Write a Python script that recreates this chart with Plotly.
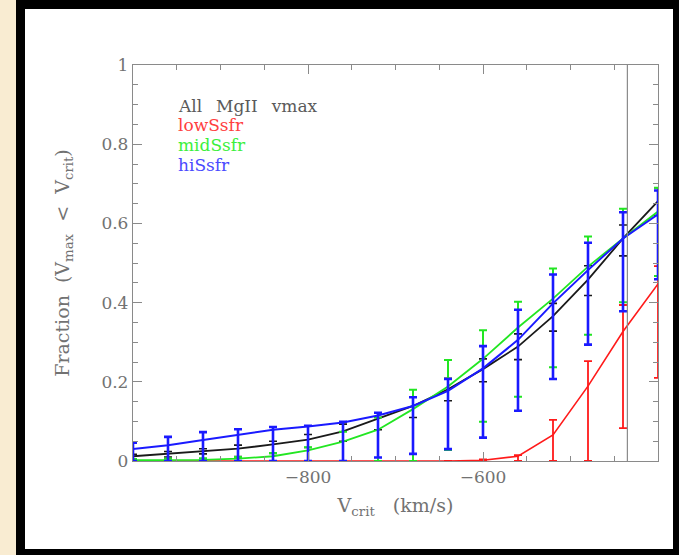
import plotly.graph_objects as go

# ---- data ----
vcrit = [-1000, -960, -920, -880, -840, -800, -760, -720, -680, -640, -600, -560, -520, -480, -440, -400]

all_y  = [0.012, 0.018, 0.024, 0.031, 0.042, 0.054, 0.075, 0.108, 0.139, 0.181, 0.232, 0.289, 0.366, 0.458, 0.562, 0.656]
all_hi = [0.017, 0.024, 0.031, 0.040, 0.050, 0.067, 0.093, 0.122, 0.161, 0.209, 0.258, 0.321, 0.398, 0.493, 0.596, 0.690]
all_lo = [0.005, 0.010, 0.018, 0.011, 0.019, 0.034, 0.050, 0.079, 0.110, 0.152, 0.200, 0.256, 0.328, 0.418, 0.518, 0.620]

low_y  = [0, 0, 0, 0, 0, 0, 0, 0, 0, 0, 0.002, 0.012, 0.066, 0.189, 0.327, 0.447]
low_hi = [0, 0, 0, 0, 0, 0, 0, 0, 0, 0, 0.004, 0.015, 0.104, 0.252, 0.394, 0.492]
low_lo = [0, 0, 0, 0, 0, 0, 0, 0, 0, 0, 0.000, 0.000, 0.000, 0.000, 0.083, 0.210]

mid_y  = [0.002, 0.002, 0.003, 0.006, 0.012, 0.027, 0.049, 0.079, 0.131, 0.188, 0.258, 0.337, 0.410, 0.491, 0.562, 0.630]
mid_hi = [0.005, 0.006, 0.007, 0.010, 0.020, 0.035, 0.074, 0.110, 0.180, 0.255, 0.330, 0.402, 0.486, 0.567, 0.637, 0.690]
mid_lo = [0.000, 0.000, 0.000, 0.000, 0.000, 0.000, 0.000, 0.000, 0.000, 0.028, 0.099, 0.162, 0.237, 0.319, 0.401, 0.467]

hi_y   = [0.030, 0.040, 0.053, 0.066, 0.079, 0.087, 0.097, 0.115, 0.139, 0.177, 0.234, 0.306, 0.398, 0.482, 0.562, 0.623]
hi_hi  = [0.046, 0.061, 0.073, 0.080, 0.086, 0.089, 0.099, 0.122, 0.161, 0.207, 0.290, 0.382, 0.471, 0.551, 0.628, 0.683]
hi_lo  = [0.000, 0.000, 0.000, 0.000, 0.000, 0.000, 0.000, 0.009, 0.018, 0.030, 0.059, 0.127, 0.207, 0.294, 0.378, 0.459]

legend_labels = ["All MgII vmax", "lowSsfr", "midSsfr", "hiSsfr"]
vline_x = -435

x_tickvals = [-800, -600]
x_ticktext = ["\u2212800", "\u2212600"]
y_tickvals = [0, 0.2, 0.4, 0.6, 0.8, 1]
y_ticktext = ["0", "0.2", "0.4", "0.6", "0.8", "1"]

# ---- figure ----
W, H = 679, 555
L, R, T, B = 133, 658, 65, 461
FONT = "DejaVu Serif"
GRAY = "#727272"

series = [
    (all_y, all_hi, all_lo, "#1a1a1a", 1.8, 1.6),
    (low_y, low_hi, low_lo, "#ff1a1a", 1.6, 1.8),
    (mid_y, mid_hi, mid_lo, "#22e622", 1.8, 2.0),
    (hi_y, hi_hi, hi_lo, "#1a1aff", 2.0, 2.6),
]

fig = go.Figure()
for (y, hi, lo, col, lw, ew) in series:
    fig.add_trace(go.Scatter(
        x=vcrit, y=y, mode="lines",
        line=dict(color=col, width=lw),
        error_y=dict(type="data", symmetric=False,
                     array=[h - v for h, v in zip(hi, y)],
                     arrayminus=[v - l for v, l in zip(y, lo)],
                     color=col, thickness=ew, width=4),
        showlegend=False, hoverinfo="skip",
    ))

def px_x(p):
    return (p - L) / (R - L)

def px_y(p):
    return (B - p) / (B - T)

shapes = [
    # black frame
    dict(type="rect", xref="paper", yref="paper", layer="below",
         x0=px_x(16), x1=px_x(690), y0=px_y(-10), y1=px_y(565),
         fillcolor="black", line=dict(width=0)),
    # white page
    dict(type="rect", xref="paper", yref="paper", layer="below",
         x0=px_x(25), x1=px_x(673), y0=px_y(9), y1=px_y(549),
         fillcolor="white", line=dict(width=0)),
    # vertical reference line
    dict(type="line", xref="x", yref="paper", x0=vline_x, x1=vline_x, y0=0, y1=1,
         line=dict(color="#8a8a8a", width=1.2)),
]

legend_colors = ["#5a5a5a", "#ff4040", "#3cef3c", "#4a4aff"]
legend_y = [0.897, 0.848, 0.798, 0.748]
annotations = []
for lab, c, yy in zip(legend_labels, legend_colors, legend_y):
    annotations.append(dict(text=lab.replace(" ", "\u2002\u00a0"), x=px_x(176), y=yy,
                            xref="paper", yref="paper",
                            xanchor="left", yanchor="middle", showarrow=False,
                            font=dict(family=FONT, size=17, color=c)))

fig.update_layout(
    width=W, height=H,
    margin=dict(l=L, r=W - R, t=T, b=H - B, pad=0),
    paper_bgcolor="#f9ecd2",
    plot_bgcolor="white",
    shapes=shapes,
    annotations=annotations,
    font=dict(family=FONT, size=17, color=GRAY),
)

axis_common = dict(showline=True, linecolor="#8a8a8a", linewidth=1.3, mirror="ticks",
                   ticks="inside", tickcolor="#8a8a8a", tickwidth=1, showgrid=False,
                   zeroline=False, tickfont=dict(family=FONT, size=17, color=GRAY))

fig.update_xaxes(range=[-1000, -400], tickmode="array", tickvals=x_tickvals, ticktext=x_ticktext,
                 ticklen=9,
                 minor=dict(tickmode="linear", tick0=-1000, dtick=50, ticks="inside", ticklen=5,
                            tickcolor="#8a8a8a", tickwidth=1, showgrid=False),
                 title=dict(text="V<sub>crit</sub>\u00a0\u00a0 (km/s)", standoff=13,
                            font=dict(family=FONT, size=19, color=GRAY)),
                 **axis_common)
fig.update_yaxes(range=[0, 1], tickmode="array", tickvals=y_tickvals, ticktext=y_ticktext,
                 ticklen=9,
                 minor=dict(tickmode="linear", tick0=0, dtick=0.05, ticks="inside", ticklen=5,
                            tickcolor="#8a8a8a", tickwidth=1, showgrid=False),
                 title=dict(text="Fraction\u00a0 (V<sub>max</sub>\u00a0 &lt;\u00a0 V<sub>crit</sub>)",
                            standoff=26, font=dict(family=FONT, size=19, color=GRAY)),
                 **axis_common)

fig.write_html("out.html")
